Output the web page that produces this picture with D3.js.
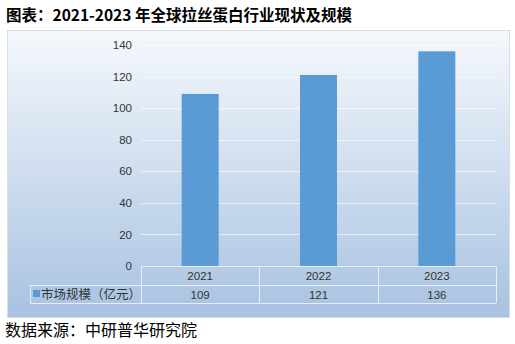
<!DOCTYPE html>
<html>
<head>
<meta charset="utf-8">
<script src="https://cdn.jsdelivr.net/npm/d3@7"></script>
<style>
  html, body { margin: 0; padding: 0; background: #ffffff; }
  svg { display: block; }
</style>
</head>
<body>
<svg id="chart" width="515" height="344"></svg>
<script>
// Market size of silk-fibroin industry, 2021–2023 (亿元)
const years = ["2021", "2022", "2023"];
const marketSize = [109, 121, 136];
const yTicks = [0, 20, 40, 60, 80, 100, 120, 140];
const seriesName = "市场规模（亿元）";
const titleText = "图表：2021-2023 年全球拉丝蛋白行业现状及规模";
const sourceText = "数据来源：中研普华研究院";

const svg = d3.select("#chart");
const cjk = "'Noto Sans CJK SC', 'Noto Sans', sans-serif";
const latin = "'Liberation Sans', Arial, sans-serif";

// Title
svg.append("text")
  .attr("x", 6).attr("y", 21)
  .attr("font-family", cjk)
  .attr("font-weight", "bold")
  .attr("font-size", 15.5)
  .attr("fill", "#000")
  .text(titleText);

// Background panel with vertical gradient
const defs = svg.append("defs");
const grad = defs.append("linearGradient")
  .attr("id", "bg").attr("x1", 0).attr("y1", 0).attr("x2", 0).attr("y2", 1);
grad.append("stop").attr("offset", "0%").attr("stop-color", "#f5f8fc");
grad.append("stop").attr("offset", "100%").attr("stop-color", "#a8c2e1");

svg.append("rect")
  .attr("x", 7.5).attr("y", 30.5)
  .attr("width", 502).attr("height", 287)
  .attr("fill", "url(#bg)")
  .attr("stroke", "#d6dde6").attr("stroke-width", 1);

// Plot area
const plot = { left: 141, right: 496, top: 45, bottom: 266 };

const x = d3.scaleBand()
  .domain(years)
  .range([plot.left, plot.right])
  .paddingInner(0).paddingOuter(0);

const y = d3.scaleLinear()
  .domain([0, 140])
  .range([plot.bottom, plot.top]);

// Gridlines
const grid = svg.append("g");
grid.selectAll("line")
  .data(yTicks.filter(d => d > 0))
  .join("line")
  .attr("x1", plot.left).attr("x2", plot.right)
  .attr("y1", d => Math.round(y(d)) + 0.5)
  .attr("y2", d => Math.round(y(d)) + 0.5)
  .attr("stroke", "#ffffff").attr("stroke-opacity", 0.6).attr("stroke-width", 1);

// Y axis labels
const yAxis = d3.axisLeft(y).tickValues(yTicks).tickSize(0).tickPadding(9);
const yg = svg.append("g")
  .attr("transform", `translate(${plot.left},0)`)
  .call(yAxis);
yg.select(".domain").remove();
yg.selectAll("text")
  .attr("font-family", latin)
  .attr("font-size", 11.5)
  .attr("fill", "#333");

// Bars
const barW = 37;
svg.append("g")
  .selectAll("rect")
  .data(marketSize)
  .join("rect")
  .attr("x", (d, i) => x(years[i]) + x.bandwidth() / 2 - barW / 2)
  .attr("y", d => y(d))
  .attr("width", barW)
  .attr("height", d => y(0) - y(d))
  .attr("fill", "#5b9bd5");

// Data table beneath the plot
const rowTop = plot.bottom, rowMid = 285, rowBot = 303;
const tableLeft = 30;
const lineColor = "#e6eef8";
const table = svg.append("g")
  .attr("stroke", lineColor).attr("stroke-width", 1).attr("fill", "none");

// horizontal lines
table.append("line")
  .attr("x1", plot.left).attr("x2", plot.right)
  .attr("y1", rowTop + 0.5).attr("y2", rowTop + 0.5);
table.append("line")
  .attr("x1", tableLeft).attr("x2", plot.right)
  .attr("y1", rowMid + 0.5).attr("y2", rowMid + 0.5);
table.append("line")
  .attr("x1", tableLeft).attr("x2", plot.right)
  .attr("y1", rowBot + 0.5).attr("y2", rowBot + 0.5);
// vertical lines at band edges
const edges = years.map(d => x(d)).concat([plot.right]);
table.selectAll("line.v")
  .data(edges)
  .join("line")
  .attr("class", "v")
  .attr("x1", d => Math.round(d) + 0.5).attr("x2", d => Math.round(d) + 0.5)
  .attr("y1", rowTop).attr("y2", rowBot);
table.append("line")
  .attr("x1", tableLeft + 0.5).attr("x2", tableLeft + 0.5)
  .attr("y1", rowMid).attr("y2", rowBot);

// category labels
svg.append("g").selectAll("text")
  .data(years)
  .join("text")
  .attr("x", d => x(d) + x.bandwidth() / 2)
  .attr("y", 280)
  .attr("text-anchor", "middle")
  .attr("font-family", latin)
  .attr("font-size", 11.5)
  .attr("fill", "#333")
  .text(d => d);

// value labels
svg.append("g").selectAll("text")
  .data(marketSize)
  .join("text")
  .attr("x", (d, i) => x(years[i]) + x.bandwidth() / 2)
  .attr("y", 298.5)
  .attr("text-anchor", "middle")
  .attr("font-family", latin)
  .attr("font-size", 11.5)
  .attr("fill", "#333")
  .text(d => d);

// legend key + series name
svg.append("rect")
  .attr("x", 33).attr("y", 290)
  .attr("width", 7).attr("height", 7)
  .attr("fill", "#5b9bd5");
svg.append("text")
  .attr("x", 41).attr("y", 299)
  .attr("font-family", cjk)
  .attr("font-size", 12.5)
  .attr("fill", "#333")
  .text(seriesName);

// Source note
svg.append("text")
  .attr("x", 5).attr("y", 336)
  .attr("font-family", cjk)
  .attr("font-size", 16)
  .attr("fill", "#000")
  .text(sourceText);
</script>
</body>
</html>
